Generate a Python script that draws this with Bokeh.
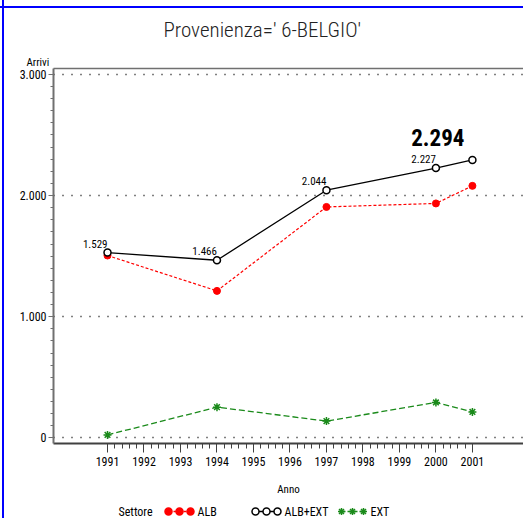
from bokeh.plotting import figure
from bokeh.models import (ColumnDataSource, FixedTicker, LinearAxis, Range1d, Label, LabelSet, Title)
from bokeh.layouts import column
from bokeh.embed import file_html
from bokeh.resources import INLINE
from bokeh.core.properties import value

# ---- data ----
years = [1991, 1994, 1997, 2000, 2001]
alb = [1505, 1213, 1906, 1935, 2080]
alb_ext = [1529, 1466, 2044, 2227, 2294]
ext = [24, 253, 138, 292, 214]
point_labels = ["1.529", "1.466", "2.044", "2.227"]
last_label = "2.294"
year_ticks = list(range(1991, 2002))
y_ticks = [0, 1000, 2000, 3000]
y_tick_labels = ["0", "1.000", "2.000", "3.000"]
title_text = "Provenienza=' 6-BELGIO'"
series_names = ["ALB", "ALB+EXT", "EXT"]
legend_title = "Settore"
x_label = "Anno"
y_label = "Arrivi"

FONT = "Roboto Condensed"
TITLEFONT = "Roboto Condensed Light"
AX = "#707070"
RED = "#ff0000"
GREEN = "#1a8a1a"

p = figure(width=523, height=498, x_range=Range1d(1989.52, 2002.40), y_range=Range1d(-47, 3049),
           output_backend="svg", toolbar_location=None, title=None,
           min_border_left=53, min_border_right=0, min_border_top=68, min_border_bottom=52,
           outline_line_color=None, background_fill_color="white", border_fill_color=None)

p.xgrid.visible = False
p.ygrid.grid_line_color = "black"
p.ygrid.grid_line_dash = "1 8"
p.ygrid.grid_line_width = 1.5

# y axis
p.yaxis.ticker = FixedTicker(ticks=y_ticks, minor_ticks=list(range(0, 3001, 100)))
p.yaxis.major_label_overrides = dict(zip(y_ticks, y_tick_labels))
p.yaxis.axis_line_color = AX
p.yaxis.axis_line_width = 2
p.yaxis.major_tick_in = 0
p.yaxis.major_tick_out = 5
p.yaxis.minor_tick_in = 0
p.yaxis.minor_tick_out = 3
p.yaxis.major_tick_line_color = AX
p.yaxis.minor_tick_line_color = AX
p.yaxis.major_label_standoff = 2
p.yaxis.major_label_text_font = FONT
p.yaxis.major_label_text_font_size = "12px"
p.yaxis.major_label_text_color = "black"

# x axis
p.xaxis.ticker = FixedTicker(ticks=year_ticks,
                             minor_ticks=[year_ticks[0] + i * 0.2 for i in range(5 * (len(year_ticks) - 1) + 1)])
p.xaxis.axis_line_color = "#404040"
p.xaxis.axis_line_width = 2
p.xaxis.major_tick_in = 0
p.xaxis.major_tick_out = 9
p.xaxis.minor_tick_in = 0
p.xaxis.minor_tick_out = 5
p.xaxis.major_tick_line_color = "#404040"
p.xaxis.minor_tick_line_color = "#404040"
p.xaxis.major_label_standoff = 4
p.xaxis.major_label_text_font = FONT
p.xaxis.major_label_text_font_size = "12px"
p.xaxis.major_label_text_color = "black"
p.xaxis.axis_label = x_label
p.xaxis.axis_label_text_font = FONT
p.xaxis.axis_label_text_font_size = "11px"
p.xaxis.axis_label_text_font_style = "normal"
p.xaxis.axis_label_text_color = "black"
p.xaxis.axis_label_standoff = 14

# top frame line
top = LinearAxis(ticker=FixedTicker(ticks=[]), axis_line_color=AX, axis_line_width=1.5,
                 major_tick_line_color=None, minor_tick_line_color=None,
                 major_label_text_font_size="0px", major_label_standoff=0)
p.add_layout(top, "above")
p.add_layout(Title(text=y_label, align="left", offset=-27, standoff=0, text_font=FONT,
                   text_font_size="11px", text_font_style="normal", text_color="black"), "above")
p.add_layout(Title(text=title_text, align="left", offset=110, standoff=23, text_font=TITLEFONT,
                   text_font_size="21px", text_font_style="normal", text_color="#222222"), "above")

# series
p.line(years, alb, line_color=RED, line_width=1.2, line_dash="3 2")
p.scatter(years, alb, marker="circle", size=7, fill_color=RED, line_color=RED)
p.line(years, alb_ext, line_color="black", line_width=1.3)
p.scatter(years, alb_ext, marker="circle", size=7, fill_color="white", line_color="black", line_width=1.5)
p.line(years, ext, line_color=GREEN, line_width=1.3, line_dash="6 3")
p.scatter(years, ext, marker="asterisk", size=8, line_color=GREEN, line_width=1.5)

# value labels
src = ColumnDataSource(dict(x=years[:4], y=alb_ext[:4], t=point_labels))
p.add_layout(LabelSet(x="x", y="y", text="t", source=src, text_align="right", text_baseline="bottom",
                      y_offset=5, text_font=value(FONT), text_font_size="11px", text_color="black"))
p.add_layout(Label(x=years[-1], y=alb_ext[-1], text=last_label, text_align="right", text_baseline="bottom",
                   x_offset=-8, y_offset=14, text_font=FONT, text_font_size="23px",
                   text_font_style="bold", text_color="black"))

# legend strip
lg = figure(width=523, height=20, x_range=Range1d(53, 523), y_range=Range1d(0, 20),
            output_backend="svg", toolbar_location=None, min_border=0,
            min_border_left=53, min_border_right=0,
            x_axis_location=None, y_axis_location=None, outline_line_color=None,
            border_fill_color=None, background_fill_color=None)
lg.grid.visible = False
ly = 7
legend_x0 = [168, 255, 341]
step = 11
styles = [
    dict(color=RED, dash="3 2", marker="circle", fill=RED),
    dict(color="black", dash="solid", marker="circle", fill="white"),
    dict(color=GREEN, dash="4 2", marker="asterisk", fill=GREEN),
]
lg.text([118], [ly], text=[legend_title], text_font=value(FONT), text_font_size="12px",
        text_baseline="middle", text_color="black")
for x0, name, st in zip(legend_x0, series_names, styles):
    xs = [x0, x0 + step, x0 + 2 * step]
    lg.line(xs, [ly] * 3, line_color=st["color"], line_dash=st["dash"], line_width=1.3)
    lg.scatter(xs, [ly] * 3, marker=st["marker"], size=7, fill_color=st["fill"], line_color=st["color"],
               line_width=1.5)
    lg.text([x0 + 2 * step + 7], [ly], text=[name], text_font=value(FONT), text_font_size="12px",
            text_baseline="middle", text_color="black")

page_lines = {
    "background-image": "linear-gradient(#0000ff,#0000ff), linear-gradient(#0000ff,#0000ff)",
    "background-size": "2px 100%, 100% 2px",
    "background-position": "2px 0px, 0px 6px",
    "background-repeat": "no-repeat",
    "background-color": "white",
}
layout = column(p, lg, spacing=0, styles=page_lines)
open("out.html", "w").write(file_html(layout, INLINE))
